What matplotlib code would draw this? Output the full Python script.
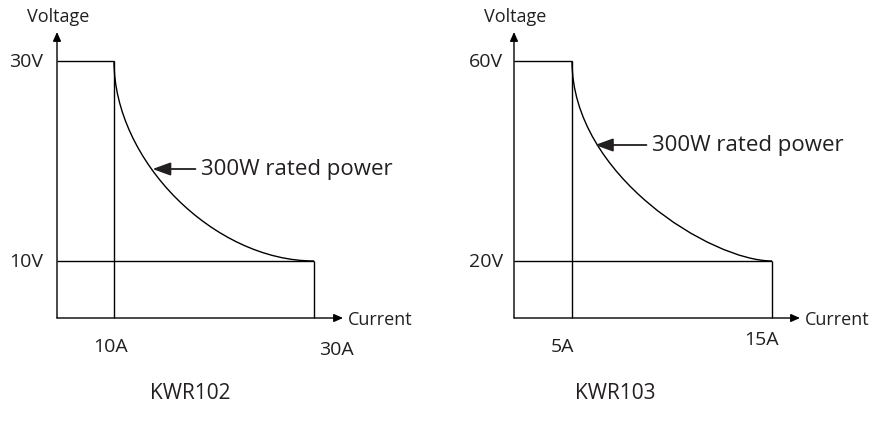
import numpy as np
import matplotlib
matplotlib.use("Agg")
from matplotlib import pyplot as plt
from matplotlib.path import Path
from matplotlib.patches import PathPatch

plt.rcParams["font.family"] = ["Open Sans", "DejaVu Sans"]

ink = "#231f20"

# Panel data: model name, voltage levels, current levels
models = ["KWR102", "KWR103"]
volt_max = [30, 60]
volt_min = [10, 20]
amp_knee = [10, 5]
amp_max = [30, 15]
volt_labels = [["10V", "30V"], ["20V", "60V"]]
amp_labels = [["10A", "30A"], ["5A", "15A"]]
power_label = "300W rated power"

# 300 W curve as drawn in the picture: bezier start, two handles, end
# (current A, voltage V)
curve_amp_102 = [10, 10, 20, 30]
curve_volt_102 = [30, 20, 10, 10]
curve_amp_103 = [5, 5, 12, 15]
curve_volt_103 = [60, 37, 20, 20]
curves = [(curve_amp_102, curve_volt_102), (curve_amp_103, curve_volt_103)]

# where the arrow of the power label points (current A, voltage V)
arrow_tip = [(13.85, 19.2), (6.15, 43.2)]


def piecewise_scale(values, offsets, length=286.0):
    # schematic axis: breakpoints placed at fixed pixel offsets
    v = [0.0] + list(values)
    p = [0.0] + list(offsets)
    slope = (p[-1] - p[-2]) / (v[-1] - v[-2])
    v_end = v[-1] + (length - p[-1]) / slope
    v.append(v_end)
    p.append(length)
    v = np.array(v, float)
    p = np.array(p, float) / length

    def fwd(a):
        return np.interp(a, v, p)

    def inv(a):
        return np.interp(a, p, v)

    return (fwd, inv), v_end


fig = plt.figure(figsize=(8.72, 4.31), dpi=100)
W, H = 872.0, 431.0

axis_left_px = [57, 514]
axis_bottom_px = 319
axis_len_px = 286
x_break_px = [[57, 257], [58, 258]]
y_break_px = [[57, 257], [57, 257]]
text_x_px = [201, 652]
title_x_px = [190, 615]
amp_label_off = [[(-3, -28), (22, -31)], [(-10, -28), (-10, -21)]]
volt_label_off = [-14, -11]

for k in range(2):
    ax = fig.add_axes([axis_left_px[k] / W, (H - axis_bottom_px) / H,
                       axis_len_px / W, axis_len_px / H])
    xfun, xend = piecewise_scale([amp_knee[k], amp_max[k]], x_break_px[k])
    yfun, yend = piecewise_scale([volt_min[k], volt_max[k]], y_break_px[k])
    ax.set_xscale("function", functions=xfun)
    ax.set_yscale("function", functions=yfun)
    ax.set_xlim(0, xend)
    ax.set_ylim(0, yend)
    ax.set_xticks([])
    ax.set_yticks([])
    ax.minorticks_off()
    for s in ax.spines.values():
        s.set_visible(False)
    ax.patch.set_alpha(0)

    line = dict(color="black", lw=1.0, clip_on=False, solid_capstyle="butt")
    ax.plot([0, amp_knee[k]], [volt_max[k], volt_max[k]], **line)
    ax.plot([amp_knee[k], amp_knee[k]], [0, volt_max[k]], **line)
    ax.plot([0, amp_max[k]], [volt_min[k], volt_min[k]], **line)
    ax.plot([amp_max[k], amp_max[k]], [0, volt_min[k]], **line)

    # rated power curve
    verts = list(zip(curves[k][0], curves[k][1]))
    codes = [Path.MOVETO, Path.CURVE4, Path.CURVE4, Path.CURVE4]
    ax.add_patch(PathPatch(Path(verts, codes), fill=False, ec="black",
                           lw=1.0, clip_on=False))

    # axes with arrow heads
    head = dict(arrowstyle="-|>,head_length=0.45,head_width=0.2",
                mutation_scale=12, color="black", lw=1.0,
                shrinkA=0, shrinkB=0)
    ax.annotate("", xy=(1, 0), xytext=(0, 0), xycoords="axes fraction",
                arrowprops=head, annotation_clip=False)
    ax.annotate("", xy=(0, 1), xytext=(0, 0), xycoords="axes fraction",
                arrowprops=head, annotation_clip=False)
    ax.annotate("Current", xy=(1, 0), xycoords="axes fraction",
                xytext=(5, -1), textcoords="offset pixels",
                ha="left", va="center", fontsize=13, color=ink)
    ax.annotate("Voltage", xy=(0, 1), xycoords="axes fraction",
                xytext=(1, 7), textcoords="offset pixels",
                ha="center", va="bottom", fontsize=13, color=ink)

    # tick labels
    for val, lab, off in zip([amp_knee[k], amp_max[k]], amp_labels[k],
                             amp_label_off[k]):
        ax.annotate(lab, xy=(val, 0), xytext=off, textcoords="offset pixels",
                    ha="center", va="center", fontsize=14, color=ink,
                    annotation_clip=False)
    for val, lab in zip([volt_min[k], volt_max[k]], volt_labels[k]):
        ax.annotate(lab, xy=(0, val), xytext=(volt_label_off[k], 0),
                    textcoords="offset pixels", ha="right", va="center",
                    fontsize=14, color=ink, annotation_clip=False)

    # rated power label with arrow
    tip = arrow_tip[k]
    tx = xfun[1]((text_x_px[k] - axis_left_px[k]) / axis_len_px)
    ax.annotate(power_label, xy=tip, xytext=(tx, tip[1]),
                ha="left", va="center", fontsize=16, color=ink,
                arrowprops=dict(arrowstyle="-|>,head_length=0.55,head_width=0.2",
                                mutation_scale=20, color=ink, lw=1.3,
                                shrinkA=2, shrinkB=0),
                annotation_clip=False)

    fig.text(title_x_px[k] / W, (H - 394) / H, models[k], ha="center",
             va="center", fontsize=15, color=ink)

fig.savefig("out.png", dpi=100, facecolor="white")
